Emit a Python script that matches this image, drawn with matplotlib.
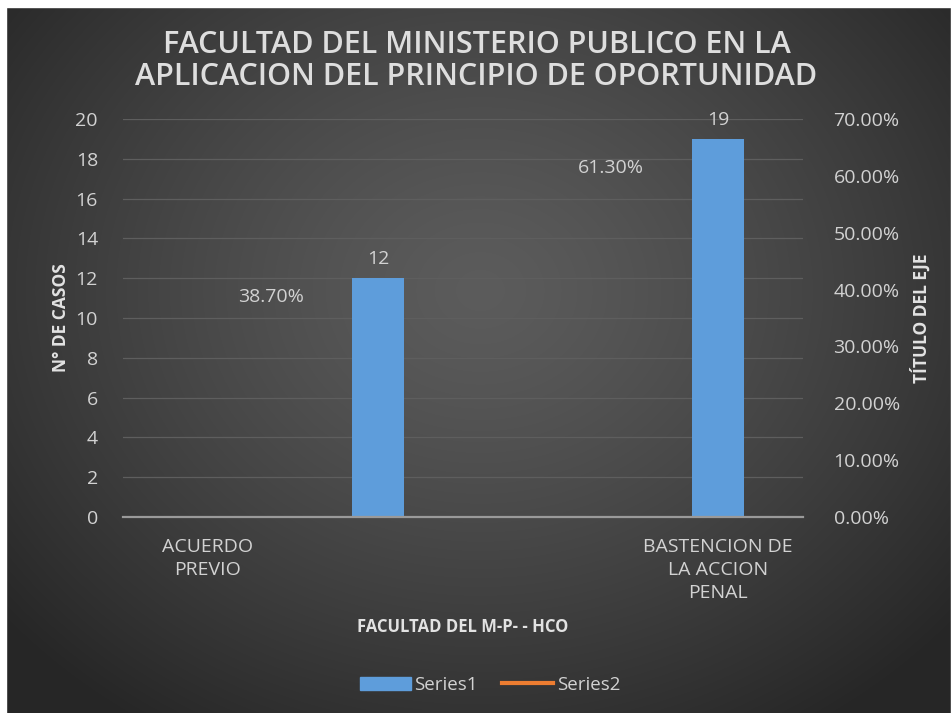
import numpy as np
import matplotlib
matplotlib.use("Agg")
import matplotlib.pyplot as plt
from matplotlib.patches import Patch, Rectangle
from matplotlib.lines import Line2D
from matplotlib.ticker import FuncFormatter

# data
categories = ["ACUERDO\nPREVIO", "", "", "BASTENCION DE\nLA ACCION\nPENAL"]
series1 = [np.nan, 12, np.nan, 19]          # N° de casos
series2 = [np.nan, 0.387, np.nan, 0.613]    # porcentaje
title = "FACULTAD DEL MINISTERIO PUBLICO EN LA\nAPLICACION DEL PRINCIPIO DE OPORTUNIDAD"

plt.rcParams['font.family'] = ['Open Sans', 'DejaVu Sans']
txt = '#d2d2d2'
W, H = 953, 713
fig = plt.figure(figsize=(W / 100, H / 100), dpi=100)

# radial gradient background
bg = fig.add_axes([0, 0, 1, 1], zorder=-10)
yy, xx = np.mgrid[0:H, 0:W]
d = np.sqrt(((xx - 480) / 620.0) ** 2 + ((yy - 290) / 520.0) ** 2)
d = np.clip(d, 0, 1)
vals = 0.36 - 0.21 * d ** 1.3
bg.imshow(np.dstack([vals, vals, vals]), extent=[0, W, H, 0], aspect='auto')
bg.set_xlim(0, W)
bg.set_ylim(H, 0)
bg.axis('off')
# white border left over from the screenshot
bg.add_patch(Rectangle((0, 0), W, 7, color='white'))
bg.add_patch(Rectangle((0, 0), 6, H, color='white'))
bg.add_patch(Rectangle((W - 2, 0), 2, H, color='white'))

ax = fig.add_axes([123 / W, 1 - 517 / H, 680 / W, 398 / H])
ax.patch.set_alpha(0)
x = np.arange(1, len(categories) + 1)
bars = ax.bar(x, series1, width=0.31, color='#5e9ddb', zorder=3)
ax.set_xlim(0.5, 4.5)
ax.set_ylim(0, 20)
ax.set_yticks(range(0, 21, 2))
ax.set_xticks(x)
ax.set_xticklabels(categories, fontsize=14, color=txt, linespacing=1.35)
ax.tick_params(axis='both', length=0, colors=txt, labelsize=14)
ax.tick_params(axis='x', pad=15)
ax.tick_params(axis='y', pad=18)
ax.grid(axis='y', color='#5e5e5e', linewidth=0.9, zorder=0)
for s in ['top', 'left', 'right']:
    ax.spines[s].set_visible(False)
ax.spines['bottom'].set_color('#9a9a9a')
ax.spines['bottom'].set_linewidth(1.6)
ax.spines['bottom'].set_zorder(4)

for xi, v in zip(x, series1):
    if not np.isnan(v):
        ax.annotate(f"{v:g}", (xi, v), xytext=(0, 10), textcoords='offset pixels',
                    ha='center', va='bottom', fontsize=14, color=txt)

ax.set_ylabel("N° DE CASOS", fontsize=12.5, fontweight='bold', color='#e2e2e2', labelpad=4)
ax.set_xlabel("FACULTAD DEL M-P- - HCO", fontsize=12, fontweight='bold', color='#e2e2e2', labelpad=12)

ax2 = ax.twinx()
ax2.plot(x, series2, color='#ed7d31', linewidth=3)
ax2.set_ylim(0, 0.7)
ax2.set_yticks(np.arange(0, 0.71, 0.1))
ax2.yaxis.set_major_formatter(FuncFormatter(lambda v, p: f"{v * 100:.2f}%"))
ax2.tick_params(axis='y', length=0, colors=txt, labelsize=14, pad=22)
for s in ax2.spines.values():
    s.set_visible(False)
ax2.set_ylabel("TÍTULO DEL EJE", fontsize=12.5, fontweight='bold', color='#e2e2e2', labelpad=8)

for xi, v in zip(x, series2):
    if not np.isnan(v):
        ax2.annotate(f"{v * 100:.2f}%", (xi, v), xytext=(-74, 0), textcoords='offset pixels',
                     ha='right', va='center', fontsize=14, color=txt)

fig.text(0.5, 1 - 61 / H, title, ha='center', va='center', fontsize=22,
         fontweight='semibold', color='#dedede', linespacing=1.05)

handles = [Patch(color='#5e9ddb'), Line2D([0], [0], color='#ed7d31', linewidth=3)]
fig.legend(handles, ['Series1', 'Series2'], loc='center', bbox_to_anchor=(490 / W, 1 - 685 / H),
           ncol=2, frameon=False, fontsize=13.5, labelcolor=txt, handlelength=2.7,
           handletextpad=0.2, columnspacing=1.3)

fig.savefig("out.png", dpi=100)
